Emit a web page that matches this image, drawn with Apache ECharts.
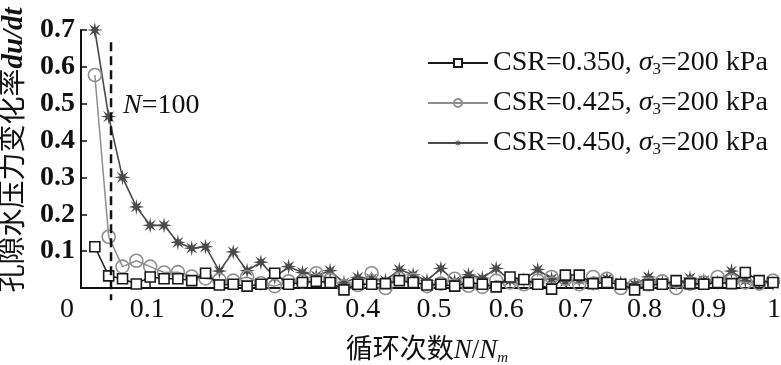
<!DOCTYPE html>
<html><head><meta charset="utf-8">
<script src="https://cdn.jsdelivr.net/npm/echarts@6/dist/echarts.min.js"></script>
<style>html,body{margin:0;padding:0;background:#fff}#c{width:781px;height:365px}</style>
</head><body><div id="c"></div>
<script>
const xValues = [0.02,0.04,0.06,0.08,0.10,0.12,0.14,0.16,0.18,0.20,0.22,0.24,0.26,0.28,0.30,0.32,0.34,0.36,0.38,0.40,0.42,0.44,0.46,0.48,0.50,0.52,0.54,0.56,0.58,0.60,0.62,0.64,0.66,0.68,0.70,0.72,0.74,0.76,0.78,0.80,0.82,0.84,0.86,0.88,0.90,0.92,0.94,0.96,0.98,1.00];
const csr350 = [0.112,0.033,0.025,0.011,0.030,0.025,0.025,0.020,0.040,0.008,0.010,0.005,0.010,0.040,0.010,0.015,0.018,0.015,-0.005,0.010,0.010,0.012,0.020,0.015,0.008,0.010,0.005,0.015,0.010,0.003,0.030,0.023,0.010,-0.003,0.035,0.035,0.012,0.015,0.010,-0.005,0.008,0.010,0.020,0.012,0.010,0.015,0.012,0.042,0.020,0.015];
const csr425 = [0.578,0.139,0.058,0.074,0.058,0.042,0.043,0.031,0.026,0.022,0.020,0.030,0.013,0.005,0.018,0.018,0.040,0.022,0.005,0.008,0.040,0.000,0.025,0.022,0.005,0.012,0.025,0.006,0.003,0.020,0.015,0.010,0.020,0.030,0.025,0.010,0.030,0.025,0.000,0.008,0.010,0.018,0.000,0.012,0.015,0.030,0.020,0.015,0.012,0.020];
const csr450 = [0.700,0.465,0.300,0.220,0.170,0.170,0.124,0.108,0.112,0.046,0.098,0.047,0.070,0.029,0.058,0.042,0.033,0.047,0.014,0.029,0.025,0.020,0.050,0.036,0.020,0.053,0.018,0.036,0.027,0.053,0.020,0.022,0.050,0.025,0.018,0.022,0.012,0.025,0.014,0.010,0.030,0.015,0.012,0.027,0.020,0.015,0.046,0.020,0.015,0.012];
const seriesNames = ['CSR=0.350, σ3=200 kPa','CSR=0.425, σ3=200 kPa','CSR=0.450, σ3=200 kPa'];
const legendTexts = ['CSR=0.350, {i|σ}{s|3}=200 kPa','CSR=0.425, {i|σ}{s|3}=200 kPa','CSR=0.450, {i|σ}{s|3}=200 kPa'];
const dashX = [0.0434, 0.0434];
const dashY = [0.667, -0.033];
const xTickLabels = ['0','0.1','0.2','0.3','0.4','0.5','0.6','0.7','0.8','0.9','1'];
const yTickLabels = ['','0.1','0.2','0.3','0.4','0.5','0.6','0.7'];

const labelShift = [-14,-3,-2,2,5,7,10,10,10,5,1];
const serif = '"Liberation Serif","Noto Sans CJK SC",serif';

function pts(ys){ return xValues.map((x,i)=>[x, ys[i]]); }
function starPath(){
  let p=[]; const n=8;
  for(let k=0;k<2*n;k++){
    const r = (k%2===0)?10:3.6; const a = Math.PI*k/n - Math.PI/2;
    p.push((10+r*Math.cos(a)).toFixed(2)+','+(10+r*Math.sin(a)).toFixed(2));
  }
  return 'path://M'+p.join('L')+'Z';
}
const xRich = {};
labelShift.forEach((d,i)=>{
  xRich['o'+i] = {fontFamily: serif, fontSize: 28, color:'#111', padding: d>0?[0,0,0,2*d]:[0,-2*d,0,0]};
});
const legendRich = {
  i:{fontFamily: serif, fontStyle:'italic', fontSize:28, color:'#111'},
  s:{fontFamily: serif, fontSize:17, color:'#111', verticalAlign:'bottom', padding:[13,0,0,0]}
};
const chart = echarts.init(document.getElementById('c'));
chart.setOption({
  animation:false,
  backgroundColor:'#fff',
  grid:{left:81,right:8,top:30,bottom:77, containLabel:false, outerBoundsMode:'none'},
  legend:{
    orient:'vertical', left:422, top:44, itemWidth:60, itemHeight:10, itemGap:11,
    data: seriesNames,
    formatter: function(name){ return legendTexts[seriesNames.indexOf(name)]; },
    textStyle:{fontFamily: serif, fontSize:28, color:'#111', rich: legendRich}
  },
  xAxis:{
    type:'value', min:0, max:1, interval:0.1,
    name:'循环次数{i|N}/{i|N}{s|m}', nameLocation:'middle', nameGap:48,
    nameTextStyle:{fontFamily: serif, fontSize:27, color:'#111',
      rich:{i:{fontFamily: serif, fontStyle:'italic', fontSize:27, color:'#111'},
            s:{fontFamily: serif, fontStyle:'italic', fontSize:15, color:'#111', verticalAlign:'bottom', padding:[15,0,0,0]}}},
    axisLine:{lineStyle:{color:'#111', width:2}},
    axisTick:{inside:true, length:7, lineStyle:{color:'#111', width:1.5}},
    splitLine:{show:false},
    axisLabel:{margin:8, formatter:function(v,i){ const k=Math.round(v*10); return '{o'+k+'|'+xTickLabels[k]+'}'; }, rich:xRich, fontFamily: serif, fontSize:28, color:'#111'}
  },
  yAxis:{
    type:'value', min:0, max:0.7, interval:0.1,
    name:'孔隙水压力变化率{b|du/dt}', nameLocation:'middle', nameGap:52, nameRotate:90,
    nameTextStyle:{fontFamily: serif, fontSize:28, color:'#111', padding:[0,0,0,18],
      rich:{b:{fontFamily: serif, fontStyle:'italic', fontWeight:'bold', fontSize:29, color:'#111'}}},
    axisLine:{show:true, lineStyle:{color:'#111', width:2}},
    axisTick:{show:true, inside:true, length:6, lineStyle:{color:'#111', width:1.5}},
    splitLine:{show:false},
    axisLabel:{margin:6, fontFamily: serif, fontWeight:'bold', fontSize:28, color:'#111',
      formatter:function(v){ return yTickLabels[Math.round(v*10)]; }}
  },
  graphic:[{type:'text', left:123, top:92, style:{
    text:'{i|N}=100', font:'28px "Liberation Serif"', fill:'#111',
    rich:{i:{fontFamily: serif, fontStyle:'italic', fontSize:28, fill:'#111'}}}}],
  series:[
    {name:seriesNames[0], type:'line', data:pts(csr350), clip:false, z:4,
     symbol:'rect', symbolSize:10, itemStyle:{color:'#fff', borderColor:'#1a1a1a', borderWidth:1.6},
     lineStyle:{color:'#1a1a1a', width:1.5}, color:'#1a1a1a'},
    {name:seriesNames[1], type:'line', data:pts(csr425), clip:false, z:3,
     symbol:'circle', symbolSize:13, itemStyle:{color:'rgba(255,255,255,0)', borderColor:'#8e8e8e', borderWidth:1.6},
     lineStyle:{color:'#8e8e8e', width:1.5}, color:'#8e8e8e'},
    {name:seriesNames[2], type:'line', data:pts(csr450), clip:false, z:2,
     symbol:starPath(), symbolSize:16, itemStyle:{color:'#4a4a4a'},
     lineStyle:{color:'#4a4a4a', width:1.6}, color:'#4a4a4a'},
    {name:'dash', type:'line', data:dashX.map((x,i)=>[x,dashY[i]]), clip:false, z:5,
     symbol:'none', silent:true, lineStyle:{color:'#111', width:2.5, type:[9,5]}}
  ]
});
</script></body></html>
